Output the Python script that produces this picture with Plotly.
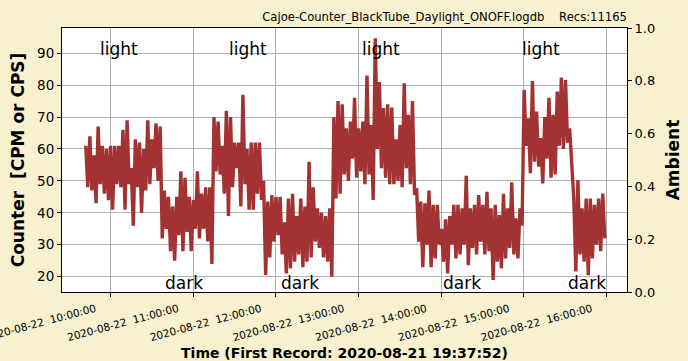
import pandas as pd
import plotly.graph_objects as go

# ---- data ----
start_time = "2020-08-22 09:42:10"
step_minutes = 3.0

counter_high = [61, 64, 58, 67, 61, 60, 61, 61, 61, 66, 69, 54, 63, 62, 60, 69, 63, 68, 67, 47,
                45, 42, 45, 53, 51, 45, 44, 53, 46, 48, 48, 70, 68.6, 61, 72, 70, 62, 62, 77, 60,
                62, 62, 62, 50, 43.5, 45.6, 45, 45, 37, 44.5, 46, 39, 44.5, 42, 56, 48, 41.4, 40, 39, 41.4,
                70, 75, 74, 66.5, 68.6, 76, 66.5, 68.6, 83, 67.5, 94.7, 81, 72.8, 74, 73, 63, 67.5, 80.6, 70.7, 75,
                47.7, 43.5, 43, 47, 42.5, 42.5, 35, 38, 39, 42.5, 42.5, 41.4, 51.6, 41.4, 42.5, 45.6, 42.5, 46.6, 41.4, 42.5,
                39.3, 46, 41.4, 49.6, 38.3, 41.4, 78.5, 69.6, 81.3, 71.7, 63.4, 70, 76, 70.7, 78, 82.4, 81.6, 66.5, 44.5, 50.3,
                41.4, 44.5, 44.5, 42.5, 44.5, 46]
counter_low = [48, 47, 43, 49, 46, 44, 41, 49, 48, 41, 49, 36, 48, 40, 47, 49, 54, 50, 32, 35,
               28, 25, 33, 28, 34, 28, 35, 32, 35, 31, 24, 53, 52, 46, 39, 48, 54, 42, 49, 41,
               41, 46, 44, 20.5, 26, 31, 33, 27, 21, 22.6, 24.7, 27, 23, 24.7, 26, 31, 29, 26, 24.7, 20,
               44.5, 46, 52, 50, 57, 51, 53, 49, 52, 44, 60, 54, 51, 49, 49, 50, 48, 54, 49, 45.6,
               31, 23, 30, 23, 25.7, 30, 24.7, 21, 30, 25.7, 27, 30, 23.6, 29, 27, 31, 27, 28, 19, 24.7,
               22.6, 25.7, 29, 27, 25.7, 36, 61, 52.4, 56, 54.5, 49.2, 57, 51, 52, 61, 60, 62, 54, 21.6, 27,
               24.7, 20.5, 25.7, 30, 28, 32]

tick_times = ["2020-08-22 10:00:00", "2020-08-22 11:00:00", "2020-08-22 12:00:00",
              "2020-08-22 13:00:00", "2020-08-22 14:00:00", "2020-08-22 15:00:00",
              "2020-08-22 16:00:00"]
tick_labels = ["2020-08-22 \u00a010:00:00", "2020-08-22 \u00a011:00:00", "2020-08-22 \u00a012:00:00",
               "2020-08-22 \u00a013:00:00", "2020-08-22 \u00a014:00:00", "2020-08-22 \u00a015:00:00",
               "2020-08-22 \u00a016:00:00"]

light_times = ["2020-08-22 10:06:11", "2020-08-22 11:40:00", "2020-08-22 13:16:00", "2020-08-22 15:12:30"]
dark_times = ["2020-08-22 10:53:27", "2020-08-22 12:17:49", "2020-08-22 14:14:54", "2020-08-22 15:45:49"]
light_level = 91.3
dark_level = 18.0

title_text = "Cajoe-Counter_BlackTube_Daylight_ONOFF.logdb\u00a0\u00a0\u00a0\u00a0Recs:11165"

# ---- build series (alternate high / low samples) ----
t0 = pd.Timestamp(start_time)
xs, ys = [], []
for i, (hi, lo) in enumerate(zip(counter_high, counter_low)):
    xs.append(t0 + pd.Timedelta(minutes=i * step_minutes))
    ys.append(hi)
    xs.append(t0 + pd.Timedelta(minutes=i * step_minutes + step_minutes / 2))
    ys.append(lo)

FONT = "DejaVu Sans"
BG = "#F8F1CF"

fig = go.Figure()
fig.add_trace(go.Scatter(x=xs, y=ys, mode="lines",
                         line=dict(color="#A33232", width=3.4),
                         showlegend=False, hoverinfo="skip"))
fig.add_trace(go.Scatter(x=[xs[0]], y=[None], yaxis="y2", mode="lines",
                         showlegend=False, hoverinfo="skip"))

for t in light_times:
    fig.add_annotation(x=t, y=light_level, text="light", showarrow=False,
                       font=dict(family=FONT, size=17, color="black"),
                       xanchor="center", yanchor="middle")
for t in dark_times:
    fig.add_annotation(x=t, y=dark_level, text="dark", showarrow=False,
                       font=dict(family=FONT, size=17, color="black"),
                       xanchor="center", yanchor="middle")

fig.update_layout(
    width=688, height=361,
    margin=dict(l=62, r=61, t=28, b=69, autoexpand=False),
    paper_bgcolor=BG, plot_bgcolor="white",
    font=dict(family=FONT, color="black"),
    title=dict(text=title_text, x=1, xanchor="right", xref="paper",
               y=1 - 17 / 361, yanchor="middle", yref="container",
               font=dict(family=FONT, size=11.6, color="black")),
    xaxis=dict(type="date", automargin=False,
               range=["2020-08-22 09:24:57", "2020-08-22 16:14:46"],
               tickvals=tick_times, ticktext=tick_labels, tickangle=-15,
               ticklabeloverflow="allow", ticklabelshift=-15, ticklabelstandoff=2,
               tickfont=dict(family=FONT, size=10.5, color="black"),
               ticks="outside", ticklen=4, tickcolor="black",
               showgrid=True, gridcolor="#b0b0b0", gridwidth=1,
               showline=True, linecolor="black", linewidth=1, mirror=True,
               zeroline=False,
               title=dict(text="<b>Time (First Record: 2020-08-21 19:37:52)</b>",
                          font=dict(family=FONT, size=14, color="black"), standoff=7)),
    yaxis=dict(range=[15.2, 97.9], tickvals=[20, 30, 40, 50, 60, 70, 80, 90],
               automargin=False,
               tickfont=dict(family=FONT, size=13.5, color="black"),
               ticks="outside", ticklen=4, tickcolor="black",
               showgrid=True, gridcolor="#b0b0b0", gridwidth=1,
               showline=True, linecolor="black", linewidth=1, mirror=True,
               zeroline=False,
               title=dict(text="<b>Counter  [CPM or CPS]</b>",
                          font=dict(family=FONT, size=17, color="black"), standoff=8)),
    yaxis2=dict(overlaying="y", side="right", range=[0, 1], automargin=False,
                tickvals=[0, 0.2, 0.4, 0.6, 0.8, 1.0], tickformat=".1f",
                tickfont=dict(family=FONT, size=13, color="black"),
                ticks="outside", ticklen=4, tickcolor="black",
                showgrid=False, zeroline=False, showline=False,
                title=dict(text="<b>Ambient</b>",
                           font=dict(family=FONT, size=17, color="black"), standoff=12)),
)

fig.write_html("out.html", config={"displayModeBar": False},
               post_script="document.body.style.margin='0px';document.body.style.background='%s';" % BG)
